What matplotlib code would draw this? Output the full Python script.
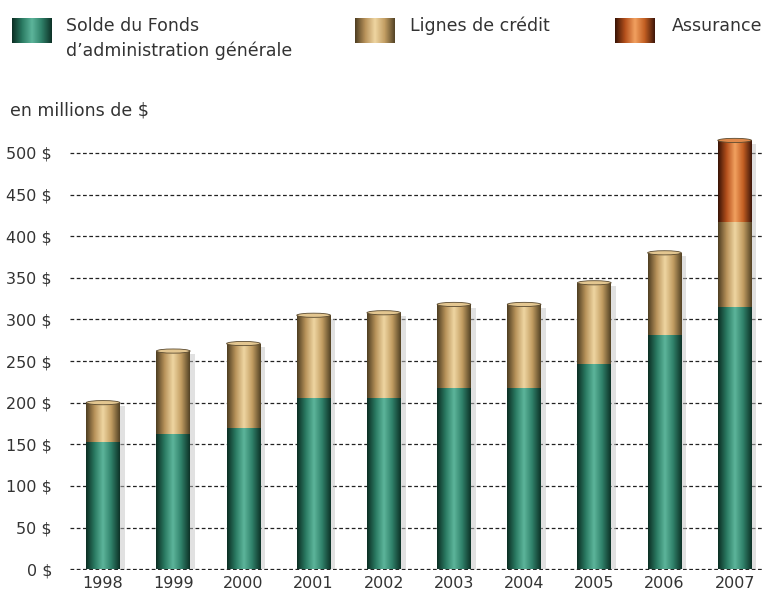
import numpy as np
import matplotlib
matplotlib.use("Agg")
import matplotlib.pyplot as plt
from matplotlib.colors import LinearSegmentedColormap
from matplotlib.patches import Rectangle, Ellipse
from matplotlib import font_manager

names = {f.name for f in font_manager.fontManager.ttflist}
if 'DejaVu Sans Condensed' in names:
    plt.rcParams['font.family'] = ['DejaVu Sans Condensed', 'DejaVu Sans']
    fs = 13
else:
    plt.rcParams['font.family'] = ['DejaVu Sans']
    fs = 12

years = ['1998', '1999', '2000', '2001', '2002', '2003', '2004', '2005', '2006', '2007']
solde = [153, 162, 170, 206, 206, 218, 218, 246, 281, 315]
lignes = [47, 100, 101, 99, 102, 100, 100, 98, 99, 102]
assurance = [0, 0, 0, 0, 0, 0, 0, 0, 0, 98]
labels = ['Solde du Fonds\nd\u2019administration générale', 'Lignes de crédit', 'Assurance']
yticks = [0, 50, 100, 150, 200, 250, 300, 350, 400, 450, 500]

# cylinder-like horizontal gradients
cmaps = [
    LinearSegmentedColormap.from_list('g', ['#0c2f24', '#2a7a62', '#5db59b', '#2f8069', '#0e3328']),
    LinearSegmentedColormap.from_list('t', ['#4f3f22', '#b8925a', '#efd6a2', '#c29d62', '#554426']),
    LinearSegmentedColormap.from_list('o', ['#3a1406', '#b5501c', '#f2a160', '#c25e22', '#40170a']),
]
caps = ['#4f9c84', '#e3c690', '#e08a4c']
grad = np.linspace(0, 1, 64).reshape(1, -1)

fig = plt.figure(figsize=(7.62, 5.95), dpi=100)
ax = fig.add_axes([0.092, 0.042, 0.908, 0.736])

x = np.arange(len(years))
w = 0.48
ax.set_xlim(-0.47, 9.39)
ax.set_ylim(-1, 525)

for i in range(len(years)):
    total = solde[i] + lignes[i] + assurance[i]
    # soft shadow
    ax.add_patch(Rectangle((x[i] - w / 2 + 0.07, 0), w, total - 4,
                           color='#c4c4c4', alpha=0.5, lw=0, zorder=2))
    bottom = 0
    top_cm = 0
    for k, (vals, cm) in enumerate(zip([solde, lignes, assurance], cmaps)):
        h = vals[i]
        if h <= 0:
            continue
        rect = Rectangle((x[i] - w / 2, bottom), w, h, facecolor='none', lw=0, zorder=3)
        ax.add_patch(rect)
        im = ax.imshow(grad, cmap=cm, aspect='auto', zorder=3,
                       extent=(x[i] - w / 2, x[i] + w / 2, bottom, bottom + h))
        im.set_clip_path(rect)
        bottom += h
        top_cm = k
    # rounded cap on top of the cylinder
    ax.add_patch(Ellipse((x[i], total), w, 5, facecolor=caps[top_cm],
                         edgecolor='#5a4a30', lw=0.6, zorder=4))

ax.set_xticks(x)
ax.set_xticklabels(years, fontsize=fs - 0.5, color='#333333')
ax.set_yticks(yticks)
ax.set_yticklabels([f'{v} $' for v in yticks], fontsize=fs - 0.5, color='#333333')
ax.tick_params(axis='both', length=0)
ax.tick_params(axis='y', pad=13)
ax.tick_params(axis='x', pad=4)
ax.yaxis.grid(True, color='#222222', lw=0.9, linestyle=(0, (3, 2)))
ax.set_axisbelow(True)
for s in ax.spines.values():
    s.set_visible(False)

# legend swatches drawn as small gradient boxes
sw = [(0.016, 0.928), (0.466, 0.928), (0.807, 0.928)]
tx = [0.087, 0.538, 0.882]
for (sx, sy), t, cm, lab in zip(sw, tx, cmaps, labels):
    lax = fig.add_axes([sx, sy, 0.052, 0.042])
    lax.imshow(grad, cmap=cm, aspect='auto')
    lax.axis('off')
    fig.text(t, 0.972, lab, fontsize=fs + 0.5, va='top', ha='left', color='#333333',
             linespacing=1.45)

fig.text(0.013, 0.815, 'en millions de $', fontsize=fs + 0.5, color='#333333', va='center')

fig.savefig('out.png', dpi=100)
